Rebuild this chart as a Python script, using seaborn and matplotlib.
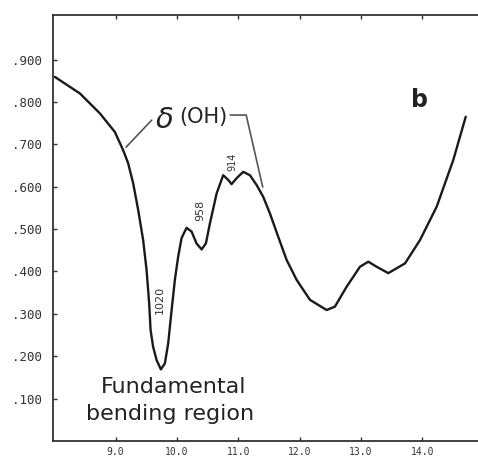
import matplotlib
matplotlib.use("Agg")
import matplotlib.pyplot as plt
import seaborn as sns
import pandas as pd

wavelength = [8.010, 8.418, 8.744, 8.989, 9.124, 9.206, 9.287, 9.369, 9.450, 9.506, 9.548,
              9.571, 9.613, 9.669, 9.739, 9.804, 9.858, 9.914, 9.967, 10.021, 10.077,
              10.158, 10.240, 10.321, 10.403, 10.473, 10.538, 10.648, 10.755, 10.837,
              10.892, 10.974, 11.082, 11.191, 11.300, 11.408, 11.517, 11.652, 11.790,
              11.953, 12.170, 12.442, 12.577, 12.768, 12.985, 13.121, 13.258, 13.447,
              13.720, 13.964, 14.237, 14.507, 14.710]
absorbance = [0.859, 0.820, 0.773, 0.729, 0.686, 0.655, 0.608, 0.545, 0.474, 0.403, 0.325,
              0.262, 0.222, 0.191, 0.169, 0.183, 0.230, 0.309, 0.380, 0.435, 0.479,
              0.503, 0.494, 0.466, 0.452, 0.466, 0.513, 0.584, 0.627, 0.616,
              0.606, 0.620, 0.635, 0.627, 0.604, 0.576, 0.537, 0.482, 0.427,
              0.380, 0.333, 0.309, 0.317, 0.364, 0.411, 0.423, 0.411, 0.396,
              0.419, 0.474, 0.553, 0.663, 0.765]
x_ticks = [9.0, 10.0, 11.0, 12.0, 13.0, 14.0]
x_labels = ["9.0", "10.0", "11.0", "12.0", "13.0", "14.0"]
y_ticks = [0.1, 0.2, 0.3, 0.4, 0.5, 0.6, 0.7, 0.8, 0.9]
y_labels = [".100", ".200", ".300", ".400", ".500", ".600", ".700", ".800", ".900"]
peak_labels = ["1020", "958", "914"]

sns.set_style("white")
plt.rcParams['font.family'] = ['DejaVu Sans']

df = pd.DataFrame({"wl": wavelength, "abs": absorbance})

fig = plt.figure(figsize=(4.78, 4.61), dpi=100)
ax = fig.add_axes([53/478, 20/461, 425/478, 426/461])
sns.lineplot(data=df, x="wl", y="abs", ax=ax, color="#1a1a1a", linewidth=1.7,
             solid_joinstyle="round", solid_capstyle="round")

ax.set_xlim(7.98, 14.91)
ax.set_ylim(0.0, 1.005)
ax.set_xlabel("")
ax.set_ylabel("")
ax.set_xticks(x_ticks)
ax.set_xticklabels(x_labels, fontfamily="DejaVu Sans Mono", fontsize=7, color="#333333")
ax.set_yticks(y_ticks)
ax.set_yticklabels(y_labels, fontfamily="DejaVu Sans Mono", fontsize=9, color="#333333")
ax.tick_params(axis="both", direction="in", length=3, width=1, color="#333333",
               top=True, bottom=True, left=True, right=False)
ax.tick_params(axis="y", pad=8)
ax.tick_params(axis="x", pad=4)
for s in ["left", "bottom", "top"]:
    ax.spines[s].set_color("#333333")
    ax.spines[s].set_linewidth(1.3)
ax.spines["right"].set_visible(False)

ax.text(13.96, 0.804, "b", fontsize=17, fontweight="bold", ha="center", va="center", color="#222222")

ax.text(9.80, 0.757, r"$\delta$", fontsize=21, ha="center", va="center", color="#222222")
ax.text(10.44, 0.764, "(OH)", fontsize=15, ha="center", va="center", color="#222222")
ax.plot([9.17, 9.59], [0.693, 0.757], color="#555555", linewidth=1.2)
ax.plot([10.87, 11.13, 11.40], [0.769, 0.769, 0.599], color="#555555", linewidth=1.2)

ax.text(9.72, 0.333, peak_labels[0], fontsize=8, rotation=90, ha="center", va="center", color="#333333")
ax.text(10.38, 0.545, peak_labels[1], fontsize=8, rotation=90, ha="center", va="center", color="#333333")
ax.text(10.90, 0.658, peak_labels[2], fontsize=7, rotation=90, ha="center", va="center", color="#333333")

ax.text(9.95, 0.127, "Fundamental", fontsize=16, ha="center", va="center", color="#222222")
ax.text(9.89, 0.064, "bending region", fontsize=16, ha="center", va="center", color="#222222")

fig.savefig("out.png", dpi=100, facecolor="white")
